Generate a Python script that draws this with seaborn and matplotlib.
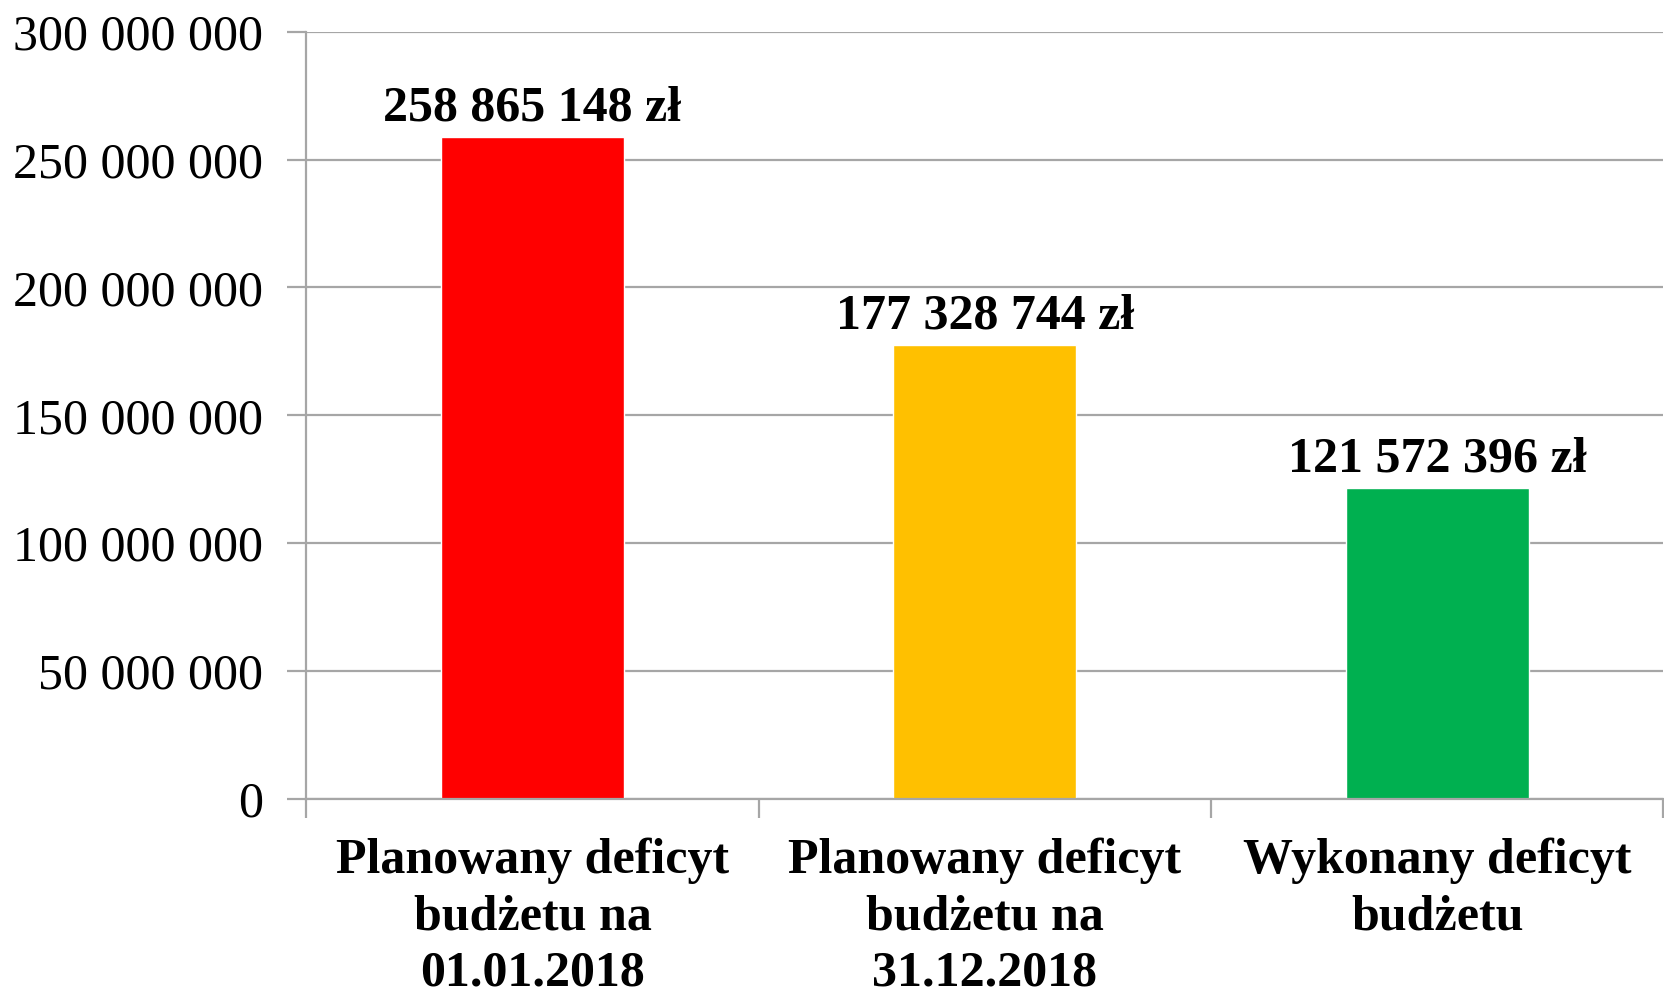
import matplotlib
matplotlib.use("Agg")
import matplotlib.pyplot as plt
import seaborn as sns
import pandas as pd
from matplotlib.ticker import FixedLocator, FuncFormatter

# Data
categories = ["Planowany deficyt\nbudżetu na\n01.01.2018",
              "Planowany deficyt\nbudżetu na\n31.12.2018",
              "Wykonany deficyt\nbudżetu"]
values = [258865148, 177328744, 121572396]
colors = ["#FF0000", "#FFC000", "#00B050"]
y_ticks = [0, 50000000, 100000000, 150000000, 200000000, 250000000, 300000000]

df = pd.DataFrame({"Kategoria": categories, "Wartosc": values})

sns.set_style("white")
plt.rcParams["font.family"] = ["Liberation Serif", "DejaVu Serif"]
plt.rcParams["text.color"] = "black"
plt.rcParams["xtick.labelcolor"] = "black"
plt.rcParams["ytick.labelcolor"] = "black"

fig = plt.figure(figsize=(16.65, 9.97), dpi=100)
ax = fig.add_axes([0.184, 0.199, 0.815, 0.769])

sns.barplot(data=df, x="Kategoria", y="Wartosc", hue="Kategoria",
            palette=colors, width=0.404, saturation=1, legend=False, ax=ax)

grid_c = "#a6a6a6"
ax.set_ylim(0, 300000000)
ax.set_xlim(-0.5, 2.5)
ax.set_yticks(y_ticks)
ax.yaxis.set_major_formatter(FuncFormatter(lambda v, p: f"{v:,.0f}".replace(",", " ")))
ax.yaxis.grid(True, color=grid_c, linewidth=1.6)
ax.set_axisbelow(True)

ax.set_xlabel("")
ax.set_ylabel("")

ax.tick_params(axis="y", labelsize=36, length=14, width=1.6, color=grid_c,
               direction="out", left=True, pad=17, labelcolor="black")
ax.tick_params(axis="x", which="major", length=0, labelsize=36, pad=28, labelcolor="black")
ax.xaxis.set_minor_locator(FixedLocator([-0.5, 0.5, 1.5, 2.5]))
ax.tick_params(axis="x", which="minor", length=14, width=1.6, color=grid_c,
               direction="out", bottom=True)
for lab in ax.get_xticklabels():
    lab.set_fontweight("bold")
    lab.set_linespacing(1.3)

for s in ["top", "right"]:
    ax.spines[s].set_visible(False)
for s in ["left", "bottom"]:
    ax.spines[s].set_color(grid_c)
    ax.spines[s].set_linewidth(1.6)

for cont in ax.containers:
    ax.bar_label(cont, labels=[f"{v:,.0f}".replace(",", " ") + " zł" for v in cont.datavalues],
                 fontsize=36, fontweight="bold", padding=4, color="black")

fig.savefig("out.png", dpi=100)
